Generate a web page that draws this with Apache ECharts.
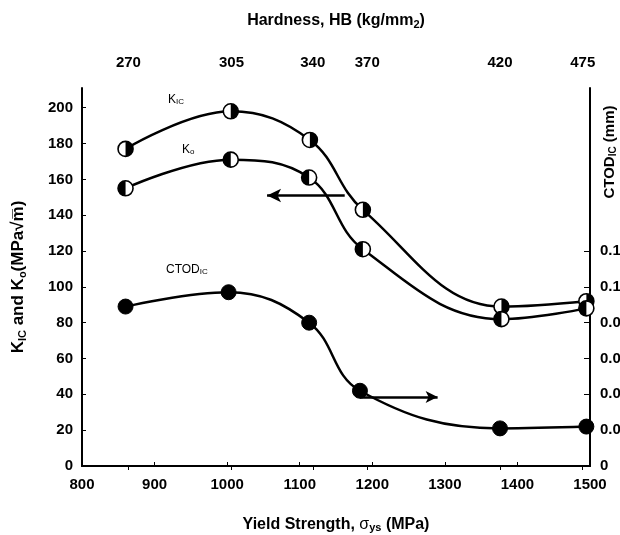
<!DOCTYPE html>
<html><head><meta charset="utf-8">
<script src="https://cdn.jsdelivr.net/npm/echarts@6/dist/echarts.min.js"></script>
<style>html,body{margin:0;padding:0;background:#fff}#c{width:620px;height:535px}</style>
</head><body><div id="c"></div>
<script>
// ---- data ----
const yieldKic = [860, 1005, 1114, 1187, 1378, 1495];
const kIC      = [177, 198, 182, 143, 89, 92];
const yieldKo  = [860, 1005, 1113, 1187, 1378, 1495];
const kO       = [155, 171, 161, 121, 82, 88];
const yieldCtod = [860, 1002, 1113, 1183, 1376, 1495];
const ctod      = [0.089, 0.097, 0.080, 0.042, 0.021, 0.022];
const hardnessPos    = [864, 1006, 1118, 1193, 1376, 1490];
const hardnessLabels = ['270', '305', '340', '370', '420', '475'];
const leftTicks  = [0, 20, 40, 60, 80, 100, 120, 140, 160, 180, 200];
const rightTicks = [0, 0.02, 0.04, 0.06, 0.08, 0.10, 0.12];
const xTicks = [800, 900, 1000, 1100, 1200, 1300, 1400, 1500];

const FONT = 'Liberation Sans, Arial, sans-serif';
const pair = (xs, ys) => xs.map((x, i) => [x, ys[i]]);

function halfMarker(blackSide) {
  return function (params, api) {
    const p = api.coord([api.value(0), api.value(1)]);
    const r = 7.5;
    const start = blackSide === 'right' ? -Math.PI / 2 : Math.PI / 2;
    return {
      type: 'group',
      children: [
        { type: 'circle', shape: { cx: p[0], cy: p[1], r: r }, style: { fill: '#fff', stroke: '#000', lineWidth: 1.6 } },
        { type: 'sector', shape: { cx: p[0], cy: p[1], r0: 0, r: r, startAngle: start, endAngle: start + Math.PI, clockwise: true }, style: { fill: '#000' } }
      ]
    };
  };
}

const axisLabelStyle = { color: '#000', fontFamily: FONT, fontWeight: 'bold', fontSize: 15 };
const chart = echarts.init(document.getElementById('c'), null, { renderer: 'canvas' });
chart.setOption({
  animation: false,
  backgroundColor: '#fff',
  grid: { left: 82, right: 30, top: 88, bottom: 69, containLabel: false, outerBoundsMode: 'none' },
  xAxis: [
    {
      type: 'value', position: 'bottom', min: 800, max: 1500, interval: 100,
      axisLine: { lineStyle: { color: '#000', width: 2 } },
      axisTick: { inside: true, length: 4, lineStyle: { color: '#000', width: 1 } },
      axisLabel: Object.assign({ margin: 11, customValues: xTicks, formatter: v => String(v) }, axisLabelStyle),
      splitLine: { show: false },
      name: '{b|Yield Strength, }{s|σ}{sub|ys}{b| (MPa)}',
      nameLocation: 'middle', nameGap: 50,
      nameTextStyle: {
        rich: {
          b: { fontFamily: FONT, fontWeight: 'bold', fontSize: 16, color: '#000' },
          s: { fontFamily: FONT, fontSize: 16, color: '#000' },
          sub: { fontFamily: FONT, fontWeight: 'bold', fontSize: 11, color: '#000', verticalAlign: 'bottom', padding: [6, 0, 0, 0] }
        }
      }
    },
    {
      type: 'value', position: 'top', min: 800, max: 1500,
      axisLine: { lineStyle: { color: '#000', width: 2 } },
      axisTick: { inside: true, length: 4, customValues: hardnessPos, lineStyle: { color: '#000', width: 1 } },
      axisLabel: Object.assign({
        margin: 18, customValues: hardnessPos,
        formatter: v => { const i = hardnessPos.indexOf(v); return i >= 0 ? hardnessLabels[i] : ''; }
      }, axisLabelStyle),
      splitLine: { show: false },
      name: '{b|Hardness, HB (kg/mm}{sub|2}{b|)}',
      nameLocation: 'middle', nameGap: 58,
      nameTextStyle: {
        rich: {
          b: { fontFamily: FONT, fontWeight: 'bold', fontSize: 16, color: '#000' },
          sub: { fontFamily: FONT, fontWeight: 'bold', fontSize: 11, color: '#000', padding: [8, 0, 0, 0] }
        }
      }
    }
  ],
  yAxis: [
    {
      type: 'value', position: 'left', min: 0, max: 211,
      axisLine: { show: true, lineStyle: { color: '#000', width: 2 } },
      axisTick: { show: true, inside: true, length: 4, customValues: leftTicks, lineStyle: { color: '#000', width: 1 } },
      axisLabel: Object.assign({ margin: 9, customValues: leftTicks }, axisLabelStyle),
      splitLine: { show: false },
      name: '{b|K}{sub|IC}{b| and K}{sub|o}{b|(MPa√m̅)}',
      nameLocation: 'middle', nameGap: 54, nameRotate: 90,
      nameTextStyle: {
        rich: {
          b: { fontFamily: FONT, fontWeight: 'bold', fontSize: 17, color: '#000' },
          sub: { fontFamily: FONT, fontWeight: 'bold', fontSize: 11, color: '#000', padding: [8, 0, 0, 0] }
        }
      }
    },
    {
      type: 'value', position: 'right', min: 0, max: 0.211,
      axisLine: { show: true, lineStyle: { color: '#000', width: 2 } },
      axisTick: { show: true, inside: true, length: 6, customValues: rightTicks.slice(1), lineStyle: { color: '#000', width: 1 } },
      axisLabel: Object.assign({
        margin: 10, customValues: rightTicks,
        formatter: v => v === 0 ? '0' : v.toFixed(2)
      }, axisLabelStyle),
      splitLine: { show: false }
    }
  ],
  graphic: [
    { type: 'text', left: 168, top: 94, style: { text: '{a|K}{s|IC}', rich: { a: { fontFamily: FONT, fontSize: 12, fill: '#000' }, s: { fontFamily: FONT, fontSize: 8, fill: '#000', padding: [4, 0, 0, 0] } } } },
    { type: 'text', left: 182, top: 144, style: { text: '{a|K}{s|o}', rich: { a: { fontFamily: FONT, fontSize: 12, fill: '#000' }, s: { fontFamily: FONT, fontSize: 8, fill: '#000', padding: [4, 0, 0, 0] } } } },
    { type: 'text', left: 166, top: 264, style: { text: '{a|CTOD}{s|IC}', rich: { a: { fontFamily: FONT, fontSize: 12, fill: '#000' }, s: { fontFamily: FONT, fontSize: 8, fill: '#000', padding: [4, 0, 0, 0] } } } },
    { type: 'text', x: 610, y: 152, rotation: Math.PI / 2, style: { text: '{b|CTOD}{sub|IC}{b| (mm)}', align: 'center', verticalAlign: 'middle', rich: {
      b: { fontFamily: FONT, fontWeight: 'bold', fontSize: 15, fill: '#000' },
      sub: { fontFamily: FONT, fontWeight: 'bold', fontSize: 10, fill: '#000', padding: [7, 0, 0, 0] } } } }
  ],
  series: [
    {
      name: 'KIC', type: 'line', xAxisIndex: 0, yAxisIndex: 0, data: pair(yieldKic, kIC),
      smooth: 0.4, showSymbol: false, lineStyle: { color: '#000', width: 2.5 }, z: 2
    },
    {
      name: 'Ko', type: 'line', xAxisIndex: 0, yAxisIndex: 0, data: pair(yieldKo, kO),
      smooth: 0.4, showSymbol: false, lineStyle: { color: '#000', width: 2.5 }, z: 2,
      markLine: {
        silent: true, symbol: ['none', 'arrow'], symbolSize: [10, 14], label: { show: false },
        lineStyle: { color: '#000', width: 2.5, type: 'solid' },
        data: [[{ coord: [1162, 151] }, { coord: [1055, 151] }]]
      }
    },
    {
      name: 'CTOD', type: 'line', xAxisIndex: 0, yAxisIndex: 1, data: pair(yieldCtod, ctod),
      smooth: 0.4, symbol: 'circle', symbolSize: 15, showSymbol: true,
      itemStyle: { color: '#000', borderColor: '#000' },
      lineStyle: { color: '#000', width: 2.5 }, z: 3,
      markLine: {
        silent: true, symbol: ['none', 'arrow'], symbolSize: [9, 12], label: { show: false },
        lineStyle: { color: '#000', width: 2.5, type: 'solid' },
        data: [[{ coord: [1183, 0.0385] }, { coord: [1290, 0.0385] }]]
      }
    },
    {
      name: 'KIC pts', type: 'custom', xAxisIndex: 0, yAxisIndex: 0, data: pair(yieldKic, kIC),
      renderItem: halfMarker('right'), z: 5
    },
    {
      name: 'Ko pts', type: 'custom', xAxisIndex: 0, yAxisIndex: 0, data: pair(yieldKo, kO),
      renderItem: halfMarker('left'), z: 5
    }
  ]
});
</script></body></html>
